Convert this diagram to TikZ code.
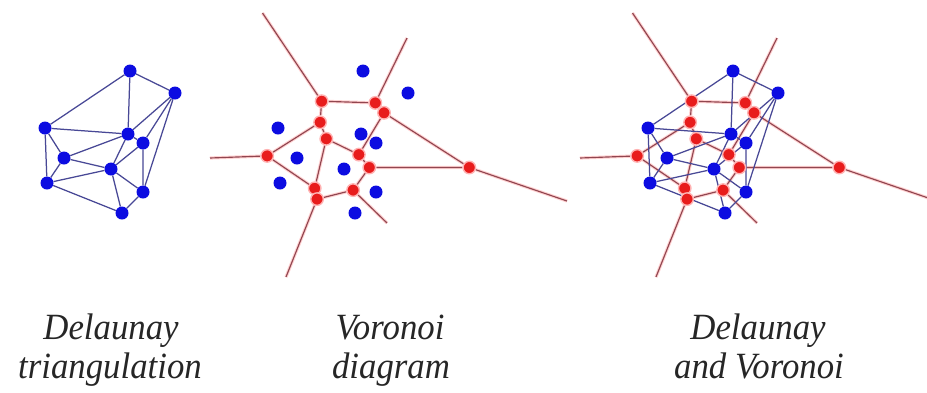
\documentclass[tikz,border=0pt]{standalone}
\usepackage{fontspec}
\usepackage{graphicx}
\setmainfont{Liberation Serif}
\usetikzlibrary{backgrounds}
\definecolor{dblue}{RGB}{12,12,225}
\definecolor{dred}{RGB}{232,28,28}
\definecolor{dedge}{RGB}{72,72,150}
\definecolor{vedge}{RGB}{145,70,80}
\newcommand\narrowtxt[1]{\scalebox{0.94}[1]{#1}}
\tikzset{
  bdot/.style={circle,fill=dblue,inner sep=0pt,minimum size=13pt},
  rdot/.style={circle,fill=dred,inner sep=0pt,minimum size=12.5pt,draw=red!30,line width=1.4pt},
  dline/.style={draw=dedge,line width=1.25pt},
  vline/.style={draw=vedge,line width=1.15pt,preaction={draw=red!18,line width=3.2pt}},
  lbl/.style={font=\fontsize{37}{40}\itshape,anchor=base,inner sep=0pt,text=black!85}
}
% blue sites
\newcommand\sitepts[1]{%
  \node[bdot] (#1A) at (130,71) {};
  \node[bdot] (#1B) at (175,93) {};
  \node[bdot] (#1C) at (45,128) {};
  \node[bdot] (#1D) at (128,134) {};
  \node[bdot] (#1E) at (143,143) {};
  \node[bdot] (#1F) at (64,158) {};
  \node[bdot] (#1G) at (111,169) {};
  \node[bdot] (#1H) at (47,183) {};
  \node[bdot] (#1I) at (143,192) {};
  \node[bdot] (#1J) at (122,213) {};
}
\newcommand\deledges[1]{%
  \begin{scope}[on background layer]
  \draw[dline] (#1A)--(#1B) (#1B)--(#1I) (#1I)--(#1J) (#1J)--(#1H) (#1H)--(#1C) (#1C)--(#1A)
    (#1A)--(#1D) (#1B)--(#1D) (#1C)--(#1D) (#1C)--(#1F) (#1D)--(#1F) (#1F)--(#1H)
    (#1F)--(#1G) (#1H)--(#1G) (#1G)--(#1J) (#1G)--(#1I) (#1G)--(#1E) (#1E)--(#1I)
    (#1B)--(#1E) (#1D)--(#1G) (#1D)--(#1E);
  \end{scope}
}
% Voronoi vertices and edges
\newcommand\vorpts[1]{%
  \node[rdot] (#1T1) at (142.3,102.9) {};
  \node[rdot] (#1T2) at (88.65,101.2) {};
  \node[rdot] (#1T3) at (87.1,122.3) {};
  \node[rdot] (#1T4) at (34.15,155.9) {};
  \node[rdot] (#1T5) at (81.7,188.3) {};
  \node[rdot] (#1T6) at (84.05,199.1) {};
  \node[rdot] (#1T7) at (120.1,190.1) {};
  \node[rdot] (#1T8) at (136.3,167.5) {};
  \node[rdot] (#1T9) at (93.3,138.8) {};
  \node[rdot] (#1T10) at (236.3,167.5) {};
  \node[rdot] (#1T11) at (151.0,112.8) {};
  \node[rdot] (#1T12) at (125.85,154.6) {};
  \coordinate (#1r1) at (174,38);
  \coordinate (#1r10) at (334,201);
  \coordinate (#1r7) at (154,223);
  \coordinate (#1r6) at (53,277);
  \coordinate (#1r4) at (-23,158);
  \coordinate (#1r2) at (29.5,13);
}
\newcommand\voredges[1]{%
  \begin{scope}[on background layer]
  \draw[vline] (#1T1)--(#1T2) (#1T1)--(#1T11) (#1T2)--(#1T3) (#1T3)--(#1T4) (#1T3)--(#1T9)
    (#1T4)--(#1T5) (#1T9)--(#1T5) (#1T5)--(#1T6) (#1T6)--(#1T7) (#1T7)--(#1T8)
    (#1T8)--(#1T12) (#1T8)--(#1T10) (#1T11)--(#1T10) (#1T9)--(#1T12) (#1T11)--(#1T12)
    (#1T1)--(#1r1) (#1T10)--(#1r10) (#1T7)--(#1r7) (#1T6)--(#1r6) (#1T4)--(#1r4) (#1T2)--(#1r2);
  \end{scope}
}
\begin{document}
\begin{tikzpicture}[x=1pt,y=-1pt]
\useasboundingbox (0,0) rectangle (927,392);
\begin{scope}[on background layer]
  \fill[white] (0,0) rectangle (927,392);
\end{scope}
% panel 1: Delaunay triangulation
\sitepts{a}
\deledges{a}
% panel 2: Voronoi diagram
\begin{scope}[shift={(233,0)}]
  \vorpts{b}
  \voredges{b}
  \sitepts{b}
\end{scope}
% panel 3: both
\begin{scope}[shift={(603,0)}]
  \vorpts{c}
  \voredges{c}
  \sitepts{c}
  \deledges{c}
\end{scope}
% labels
\node[lbl] (t1a) at (111,339) {\narrowtxt{Delaunay}};
\node[lbl] (t1b) at (110,378) {\narrowtxt{triangulation}};
\node[lbl] (t2a) at (390,339) {\narrowtxt{Voronoi}};
\node[lbl] (t2b) at (391,378) {\narrowtxt{diagram}};
\node[lbl] (t3a) at (758,339) {\narrowtxt{Delaunay}};
\node[lbl] (t3b) at (759,378) {\narrowtxt{and Voronoi}};
\end{tikzpicture}
\end{document}
